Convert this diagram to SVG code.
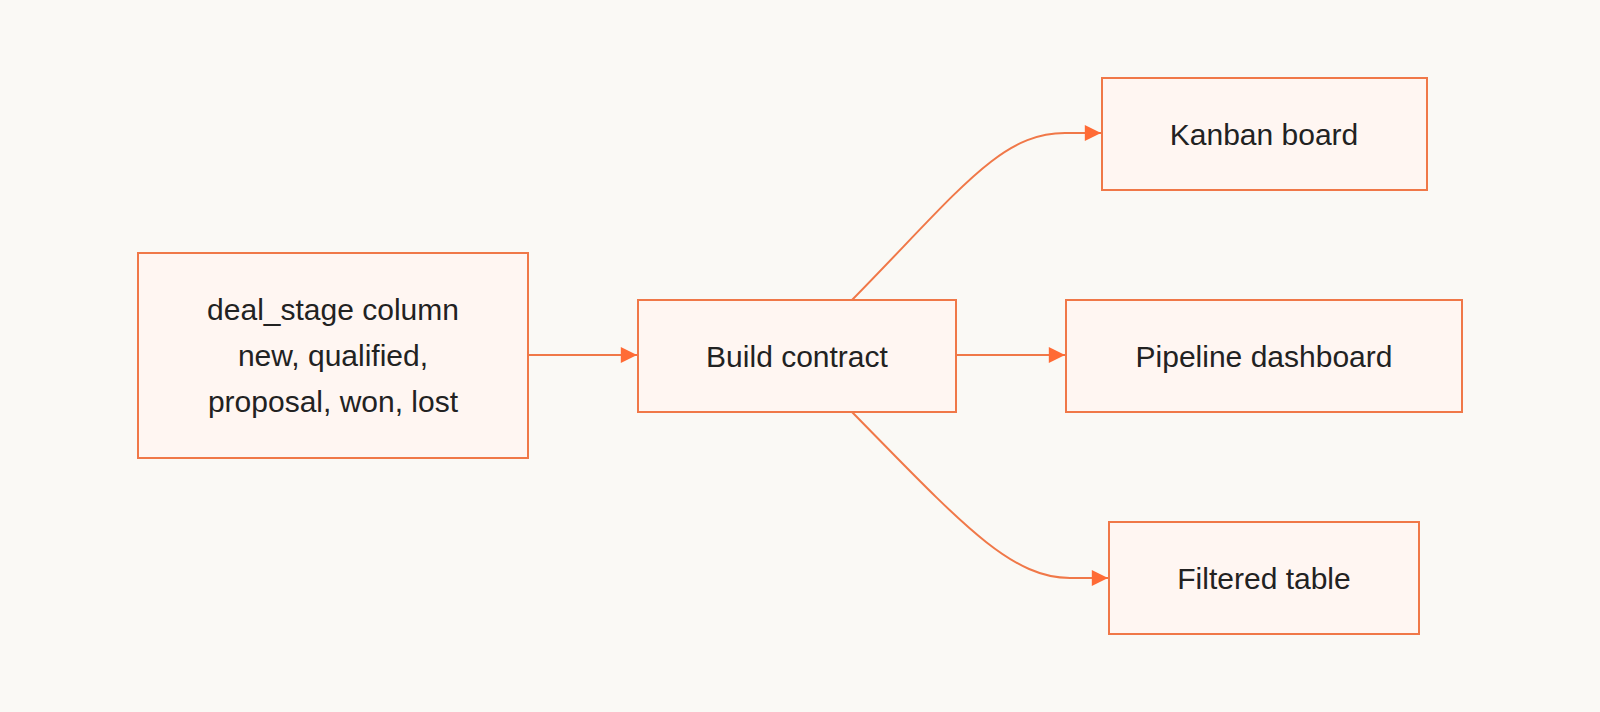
<svg xmlns="http://www.w3.org/2000/svg" width="1600" height="712" viewBox="0 0 1600 712">
<style>
.n rect{fill:#fff6f2;stroke:#f07848;stroke-width:2}
.n text{font-family:"Liberation Sans",Arial,sans-serif;font-size:30px;fill:#222;text-anchor:middle;dominant-baseline:central}
.e path{fill:none;stroke:#f07848;stroke-width:2;marker-end:url(#a)}
</style>
<defs><marker id="a" viewBox="0 0 10 10" refX="10" refY="5" markerWidth="9" markerHeight="9" markerUnits="userSpaceOnUse" orient="auto" style="overflow:visible"><path d="M-8,-4 L10,5 L-8,14 z" fill="#ff6b35"/></marker></defs>
<rect width="1600" height="712" fill="#faf9f5"/>
<g class="e">
<path d="M528,355 L637,355"/>
<path d="M956,355 L1065,355"/>
<path d="M852,300 C960,190 1000,133 1065,133 L1101,133"/>
<path d="M852,412 C960,522 1010,578 1070,578 L1108,578"/>
</g>
<g class="n" id="src"><rect x="138" y="253" width="390" height="205"/><text x="333" y="309">deal_stage column</text><text x="333" y="355">new, qualified,</text><text x="333" y="401">proposal, won, lost</text></g>
<g class="n" id="build"><rect x="638" y="300" width="318" height="112"/><text x="797" y="356">Build contract</text></g>
<g class="n" id="kanban"><rect x="1102" y="78" width="325" height="112"/><text x="1264" y="134">Kanban board</text></g>
<g class="n" id="pipe"><rect x="1066" y="300" width="396" height="112"/><text x="1264" y="356">Pipeline dashboard</text></g>
<g class="n" id="table"><rect x="1109" y="522" width="310" height="112"/><text x="1264" y="578">Filtered table</text></g>
</svg>
